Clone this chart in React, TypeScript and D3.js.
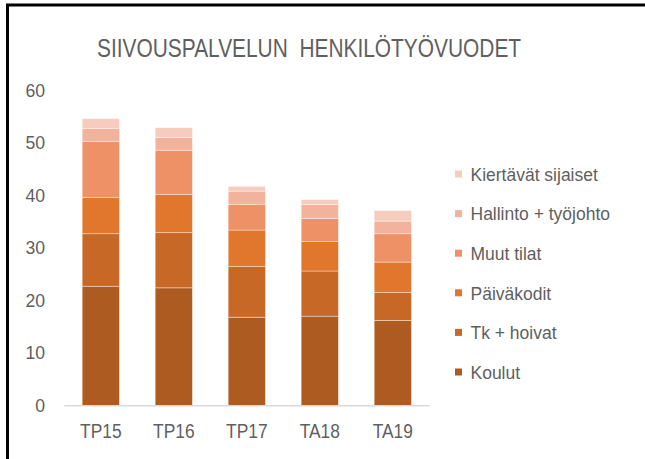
import React from "react";
import * as d3 from "d3";

const years = ["TP15", "TP16", "TP17", "TA18", "TA19"];
const seriesNames = [
  "Koulut",
  "Tk + hoivat",
  "Päiväkodit",
  "Muut tilat",
  "Hallinto + työjohto",
  "Kiertävät sijaiset",
];
const koulut = [22.7, 22.4, 16.8, 17.0, 16.2];
const tkHoivat = [10.0, 10.5, 9.7, 8.6, 5.3];
const paivakodit = [6.9, 7.3, 6.9, 5.6, 5.8];
const muutTilat = [10.7, 8.4, 4.9, 4.4, 5.4];
const hallinto = [2.4, 2.4, 2.5, 2.7, 2.4];
const kiertavat = [1.9, 1.9, 0.9, 0.9, 2.0];
const yTicks = [0, 10, 20, 30, 40, 50, 60];
const colors = ["#ae5b21", "#c86826", "#e0772c", "#ef9166", "#f3b29b", "#f6ccbf"];

const W = 645;
const H = 459;
const FONT = "'Liberation Sans', Arial, sans-serif";
const GREY = "#5f5f5f";

export default function App() {
  const allSeries = [koulut, tkHoivat, paivakodit, muutTilat, hallinto, kiertavat];
  // rows for d3.stack
  const rows = years.map((y, i) => {
    const r: Record<string, any> = { year: y };
    seriesNames.forEach((s, k) => (r[s] = allSeries[k][i]));
    return r;
  });
  const stacked = d3.stack().keys(seriesNames)(rows as any);

  const x = d3
    .scaleBand()
    .domain(years)
    .range([64.3, 429.3])
    .paddingInner(0.49)
    .paddingOuter(0.245);
  const y = d3.scaleLinear().domain([0, 60]).range([405.5, 90.3]);

  const legendY = d3
    .scalePoint()
    .domain([...seriesNames].reverse())
    .range([174, 372]);

  return (
    <svg
      width={W}
      height={H}
      style={{ position: "absolute", left: 0, top: 0, background: "#fff" }}
    >
      <rect x={0} y={0} width={W} height={H} fill="#fff" />
      {/* frame */}
      <rect x={7.5} y={5} width={W + 20} height={H + 20} fill="none" stroke="#000" strokeWidth={3} />

      {/* title */}
      <g transform="translate(97,56.7) scale(1,1.24)">
        <text
          x={0}
          y={0}
          fontFamily={FONT}
          fontSize={20.9}
          fill={GREY}
          style={{ whiteSpace: "pre" }}
        >
          SIIVOUSPALVELUN  HENKILÖTYÖVUODET
        </text>
      </g>

      {/* y tick labels */}
      {yTicks.map((t) => (
        <text
          key={t}
          x={45}
          y={y(t)}
          dy="0.36em"
          textAnchor="end"
          fontFamily={FONT}
          fontSize={17.6}
          fill={GREY}
        >
          {t}
        </text>
      ))}

      {/* bars */}
      {stacked.map((layer, k) => (
        <g key={layer.key} fill={colors[k]}>
          {layer.map((d, i) => (
            <rect
              key={years[i]}
              x={x(years[i])!}
              y={y(d[1])}
              width={x.bandwidth()}
              height={y(d[0]) - y(d[1])}
              stroke="#ffffff"
              strokeOpacity={0.5}
              strokeWidth={0.75}
            />
          ))}
        </g>
      ))}

      {/* axis line */}
      <line x1={64.3} x2={429.3} y1={405.7} y2={405.7} stroke="#d9d9d9" strokeWidth={1.5} />

      {/* x labels */}
      {years.map((yr) => (
        <g
          key={yr}
          transform={`translate(${x(yr)! + x.bandwidth() / 2},437.7) scale(1,1.15)`}
        >
          <text x={0} y={0} textAnchor="middle" fontFamily={FONT} fontSize={17.4} fill={GREY}>
            {yr}
          </text>
        </g>
      ))}

      {/* legend */}
      {seriesNames.map((s, k) => {
        const cy = legendY(s)!;
        return (
          <g key={s}>
            <rect x={455} y={cy - 3.5} width={7} height={7} fill={colors[k]} />
            <g transform={`translate(470.5,${cy}) scale(1,1.07)`}>
              <text x={0} y={0} dy="0.36em" fontFamily={FONT} fontSize={17.5} fill={GREY}>
                {s}
              </text>
            </g>
          </g>
        );
      })}
    </svg>
  );
}
